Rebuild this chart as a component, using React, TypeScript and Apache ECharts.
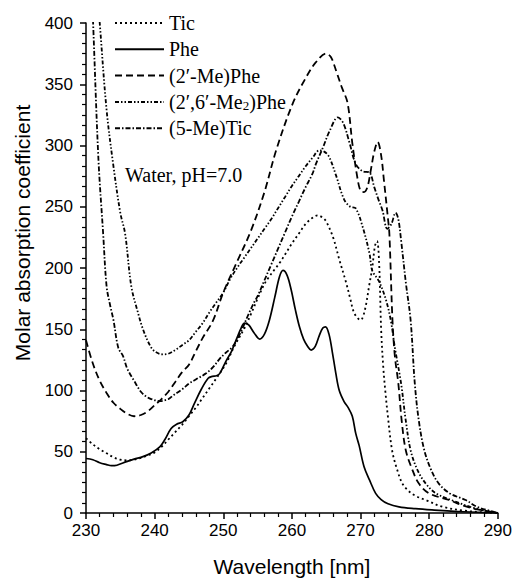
import React, { useEffect, useRef } from "react";
import * as echarts from "echarts";

const seriesNames = ["Tic", "Phe", "(2′-Me)Phe", "(2′,6′-Me2)Phe", "(5-Me)Tic"];

const ticData: [number, number][] = [
  [230, 61], [231, 56], [232, 52], [233, 48.7], [234, 45.5], [235, 43.5], [236, 43], [237, 43.5],
  [238, 45], [239, 47], [240, 49.5], [241, 54], [242, 60], [243, 66], [244, 72], [245, 79],
  [246, 86], [247, 94], [248, 102], [249, 110], [250.4, 122], [251.6, 136], [253.1, 151],
  [254, 162], [255, 175], [256, 187], [256.7, 193], [257.5, 199], [258.2, 204], [259, 211],
  [260, 220], [261, 228], [262, 236], [263, 241], [263.75, 243], [264.5, 241], [265, 238],
  [266, 225], [266.9, 207], [267.9, 188], [268.5, 175], [269.1, 163], [270, 157.5], [270.6, 165],
  [271.3, 187], [271.7, 200], [272.1, 218], [272.4, 222], [272.7, 205], [273, 150], [273.3, 120],
  [273.6, 100], [274, 78], [274.6, 51], [275.3, 36], [276.1, 24], [277, 18], [278, 14],
  [279.5, 10.6], [282, 5], [285, 2], [288, 0.5], [290, 0],
];

const pheData: [number, number][] = [
  [230, 44.5], [231, 43.5], [232, 41], [233, 39.5], [233.7, 38.6], [234.5, 39], [235.9, 41.9],
  [237, 44], [238.3, 46], [239.5, 49], [240.75, 54], [241.5, 60], [242.4, 69], [243.2, 72.5],
  [244.1, 74.5], [245, 80], [245.8, 89.5], [246.8, 101], [247.8, 110], [248.4, 111.5], [249, 112],
  [249.5, 114], [250.4, 124], [251.2, 132], [252, 143], [252.6, 151], [253.1, 155], [253.7, 153.5],
  [254.5, 147], [255.3, 142], [256, 146], [256.7, 157], [257.5, 176], [258.2, 193], [258.7, 198],
  [259.3, 194], [259.9, 182], [260.5, 166], [261.1, 152], [261.7, 142], [262.3, 136], [262.8, 133],
  [263.4, 136], [264, 145], [264.5, 151], [264.9, 152], [265.4, 146], [265.9, 131], [266.4, 114],
  [266.9, 100], [267.6, 91], [268.2, 86], [268.8, 79], [269.3, 65], [269.8, 55], [270.5, 38],
  [271.3, 27], [272.2, 16], [273, 11], [274, 7.5], [275.6, 5], [278, 3.5], [280.4, 2.5],
  [285, 1], [290, 0],
];

const meData: [number, number][] = [
  [230, 141], [231, 122], [232, 108], [233, 98], [234, 90], [235, 85], [236, 81], [237, 79],
  [238, 80], [239, 83], [240, 88], [241, 93], [242, 99], [243, 107], [244, 115], [245, 121],
  [246, 132], [247, 143], [248.5, 157], [250, 180], [252, 205], [254, 230], [256, 262],
  [257.7, 296], [260.1, 334], [262, 355], [263.5, 368], [265, 375], [265.7, 372], [266.5, 360],
  [267.3, 347], [268.1, 335], [268.8, 302], [269.5, 275], [270, 263], [270.5, 262], [271, 266],
  [271.5, 280], [272, 295], [272.5, 303], [273, 292], [273.4, 272], [274, 240], [274.2, 228],
  [274.65, 157.5], [275, 128], [275.5, 106], [276, 75], [276.6, 51], [277.5, 36], [278.5, 24],
  [280, 16], [282.9, 10.6], [285, 6], [287, 3], [290, 0],
];

const me2Data: [number, number][] = [
  [230, 560], [231, 470], [232, 400], [233, 329], [234, 283], [235, 245], [235.7, 228],
  [236.6, 185], [237.5, 165], [238.3, 150], [239.3, 137], [240, 132], [241.2, 129.5], [242, 130],
  [243, 133], [244, 137], [245, 141], [246, 148], [247, 155], [248, 164], [249, 172], [250, 180],
  [251, 191], [252, 200], [253, 208], [254, 216], [255, 224], [256, 232], [257, 240], [258, 249],
  [259, 258], [260, 267], [261, 275], [262, 283], [263, 290], [264, 296], [264.7, 295],
  [265.4, 291], [266.4, 276], [267.6, 256], [268.5, 250], [269.3, 248.7], [270.3, 233.7],
  [271.3, 212], [271.7, 198], [272.7, 189], [273.7, 174], [274.4, 157.5], [275, 135],
  [275.9, 106], [276.6, 75], [277.3, 51], [278.3, 35], [279.5, 24], [281, 16], [283.5, 10],
  [286, 5], [288, 2], [290, 0],
];

const meTicData: [number, number][] = [
  [230, 540], [231, 405], [231.8, 290], [232.5, 228], [233, 185], [233.5, 170], [234, 157.5],
  [234.7, 135], [235.4, 128], [236, 118], [237, 108], [238, 99], [238.8, 95], [239.5, 93],
  [240.75, 91.4], [242, 93], [242.7, 96], [244, 101], [245.1, 106], [246, 109], [247.5, 114],
  [248.5, 119], [249.5, 126], [250.4, 131], [251.4, 136], [252.5, 147], [253.5, 160],
  [254.5, 172], [255, 177], [256, 190], [257, 203], [258, 216], [259, 229], [260, 242],
  [261, 254], [262, 266], [263, 277], [263.5, 285], [264.5, 298], [265.5, 312], [266.7, 323],
  [267.5, 318], [268.4, 302], [269.3, 285], [270.3, 279], [271.3, 278], [272, 266], [272.6, 256],
  [273.2, 247], [273.9, 232], [274.5, 236], [275.1, 245], [275.5, 240], [275.9, 223],
  [276.6, 188], [277.3, 157], [277.9, 106], [278.5, 75], [279.3, 51], [280.3, 35], [281.4, 24],
  [283, 16], [285.3, 10.6], [287, 5], [289, 1.5], [290, 0],
];

const dashTypes: (number[] | string)[] = [
  [2, 3],
  "solid",
  [7, 4],
  [4, 2, 1.5, 2, 1.5, 2],
  [5, 2, 1.5, 2],
];

const allData = [ticData, pheData, meData, me2Data, meTicData];

export default function App() {
  const ref = useRef<HTMLDivElement>(null);
  useEffect(() => {
    document.body.style.margin = "0";
    const chart = echarts.init(ref.current!, undefined, { renderer: "svg" });
    const axisFont = "Liberation Sans";
    chart.setOption({
      animation: false,
      backgroundColor: "#fff",
      grid: { left: 86, right: 16, top: 23, bottom: 69, containLabel: false },
      legend: {
        orient: "vertical",
        left: 114,
        top: 12,
        padding: 0,
        itemWidth: 49,
        itemHeight: 14,
        itemGap: 4.3,
        selectedMode: false,
        data: seriesNames,
        itemStyle: { color: "rgba(0,0,0,0)", borderWidth: 0, opacity: 0 },
        formatter: (name: string) =>
          name === "(2′,6′-Me2)Phe" ? "(2′,6′-Me{sub|2})Phe" : name,
        textStyle: {
          fontFamily: "Liberation Serif",
          fontSize: 20,
          color: "#000",
          lineHeight: 22,
          rich: {
            sub: {
              fontFamily: "Liberation Serif",
              fontSize: 13,
              color: "#000",
              lineHeight: 13,
              padding: [8, 0, 0, 0],
            },
          },
        },
      },
      xAxis: {
        type: "value",
        min: 230,
        max: 290,
        interval: 10,
        name: "Wavelength [nm]",
        nameLocation: "middle",
        nameGap: 43,
        nameTextStyle: { fontFamily: axisFont, fontSize: 21, color: "#000" },
        axisLine: { show: true, lineStyle: { color: "#000", width: 1.5 } },
        axisTick: { show: true, length: 6, lineStyle: { color: "#000", width: 1.5 } },
        minorTick: { show: true, splitNumber: 5, length: 4, lineStyle: { color: "#000", width: 1.2 } },
        splitLine: { show: false },
        axisLabel: { fontFamily: axisFont, fontSize: 17, color: "#000", margin: 9 },
      },
      yAxis: {
        type: "value",
        min: 0,
        max: 400,
        interval: 50,
        axisLine: { show: true, lineStyle: { color: "#000", width: 1.5 } },
        axisTick: { show: true, length: 6, lineStyle: { color: "#000", width: 1.5 } },
        minorTick: { show: true, splitNumber: 6, length: 4, lineStyle: { color: "#000", width: 1.2 } },
        splitLine: { show: false },
        axisLabel: { fontFamily: axisFont, fontSize: 17, color: "#000", margin: 13 },
      },
      graphic: [
        {
          type: "text",
          x: 22,
          y: 233,
          rotation: Math.PI / 2,
          style: {
            text: "Molar absorption coefficient",
            fontFamily: axisFont,
            fontSize: 21,
            fill: "#000",
            align: "center",
            verticalAlign: "middle",
          },
        },
        {
          type: "text",
          x: 125,
          y: 175,
          style: {
            text: "Water, pH=7.0",
            fontFamily: "Liberation Serif",
            fontSize: 20,
            fill: "#000",
            align: "left",
            verticalAlign: "middle",
          },
        },
      ],
      series: seriesNames.map((name, i) => ({
        name,
        type: "line",
        data: allData[i],
        symbol: "none",
        showSymbol: false,
        smooth: 0.35,
        clip: true,
        lineStyle: { color: "#000", width: i === 1 ? 1.7 : 1.8, type: dashTypes[i] },
        itemStyle: { color: "rgba(0,0,0,0)", borderWidth: 0 },
      })),
    });
    return () => chart.dispose();
  }, []);
  return (
    <div
      ref={ref}
      style={{ position: "fixed", left: 0, top: 0, width: 515, height: 582, background: "#fff" }}
    />
  );
}
